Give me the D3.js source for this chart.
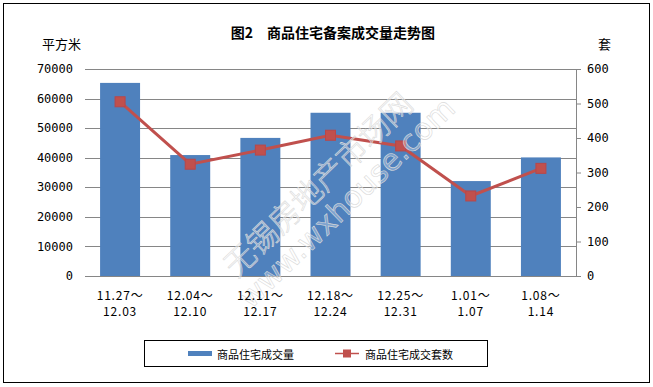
<!DOCTYPE html>
<html>
<head>
<meta charset="utf-8">
<script src="https://cdn.jsdelivr.net/npm/d3@7"></script>
<style>
  body { margin: 0; background: #fff; }
  text { font-family: "Noto Sans CJK SC", "DejaVu Sans", sans-serif; }
</style>
</head>
<body>
<div id="chart"></div>
<script>
// weekly periods, two-line labels
var periodsTop = ['11.27～', '12.04～', '12.11～', '12.18～', '12.25～', '1.01～', '1.08～']
var periodsBottom = ['12.03', '12.10', '12.17', '12.24', '12.31', '1.07', '1.14']
var areaValues = [65300, 40900, 46700, 55200, 55200, 32100, 40100]   // 平方米
var unitValues = [505, 324, 365, 408, 377, 232, 312]                 // 套
var leftTicks = [0, 10000, 20000, 30000, 40000, 50000, 60000, 70000]
var rightTicks = [0, 100, 200, 300, 400, 500, 600]

var width = 653
var height = 387
var margin = { top: 69, right: 77, bottom: 111, left: 85 }
var plotW = width - margin.left - margin.right
var plotH = height - margin.top - margin.bottom

var svg = d3.select('#chart').append('svg')
  .attr('width', width)
  .attr('height', height)

// outer frame
svg.append('rect')
  .attr('x', 3.5).attr('y', 3.5)
  .attr('width', 646).attr('height', 379)
  .attr('fill', '#fff').attr('stroke', '#000')

var x = d3.scaleBand().domain(d3.range(periodsTop.length)).range([0, plotW]).paddingInner(0.43).paddingOuter(0.215)
var yL = d3.scaleLinear().domain([0, 70000]).range([plotH, 0])
var yR = d3.scaleLinear().domain([0, 600]).range([plotH, 0])

var g = svg.append('g').attr('transform', 'translate(' + margin.left + ',' + margin.top + ')')

// gridlines
g.append('g').selectAll('line')
  .data(leftTicks)
  .enter().append('line')
  .attr('x1', 0).attr('x2', plotW)
  .attr('y1', d => Math.round(yL(d)) + 0.5)
  .attr('y2', d => Math.round(yL(d)) + 0.5)
  .attr('stroke', '#868686')

// left axis labels
g.append('g').selectAll('text')
  .data(leftTicks)
  .enter().append('text')
  .attr('x', -12)
  .attr('y', d => yL(d))
  .attr('dy', '0.35em')
  .attr('text-anchor', 'end')
  .style('font-family', '"DejaVu Sans Mono", monospace')
  .style('font-size', '12px')
  .text(d => d)

// right axis
var rightAxis = d3.axisRight(yR).tickValues(rightTicks).tickSize(5).tickPadding(6)
var ra = g.append('g').attr('transform', 'translate(' + plotW + ',0)').call(rightAxis)
ra.select('.domain').attr('stroke', '#868686').attr('d', 'M0.5,' + (plotH + 0.5) + 'V0.5')
ra.selectAll('.tick line').attr('stroke', '#868686')
ra.selectAll('.tick text')
  .style('font-family', '"DejaVu Sans Mono", monospace')
  .style('font-size', '12px')
  .attr('fill', '#000')

// bars
g.append('g').selectAll('rect')
  .data(areaValues)
  .enter().append('rect')
  .attr('x', (d, i) => x(i))
  .attr('y', d => yL(d))
  .attr('width', x.bandwidth())
  .attr('height', d => plotH - yL(d))
  .attr('fill', '#4F81BD')

// line
var line = d3.line()
  .x((d, i) => x(i) + x.bandwidth() / 2)
  .y(d => yR(d))
g.append('path')
  .datum(unitValues)
  .attr('d', line)
  .attr('fill', 'none')
  .attr('stroke', '#C0504D')
  .attr('stroke-width', 3)

g.append('g').selectAll('rect')
  .data(unitValues)
  .enter().append('rect')
  .attr('x', (d, i) => x(i) + x.bandwidth() / 2 - 5)
  .attr('y', d => yR(d) - 5)
  .attr('width', 10).attr('height', 10)
  .attr('fill', '#C0504D')
  .attr('stroke', '#B8474A')

// watermark
var wm = g.append('g')
  .attr('transform', 'translate(' + (330 - margin.left) + ',' + (197 - margin.top) + ') rotate(-44)')
  .style('pointer-events', 'none')
wm.append('text')
  .attr('x', 0).attr('y', -6)
  .attr('text-anchor', 'middle')
  .style('font-size', '31px')
  .style('font-weight', '300')
  .attr('fill', 'rgba(255,255,255,0.3)')
  .attr('stroke', '#dadada').attr('stroke-width', 0.6)
  .text('无锡房地产市场网')
wm.append('text')
  .attr('x', 8).attr('y', 26)
  .attr('text-anchor', 'middle')
  .style('font-size', '30px')
  .style('font-family', '"DejaVu Sans", sans-serif')
  .attr('fill', 'rgba(255,255,255,0.3)')
  .attr('stroke', '#dadada').attr('stroke-width', 0.6)
  .text('www.wxhouse.com')

// category labels
var xl = g.append('g').attr('transform', 'translate(0,' + plotH + ')')
xl.selectAll('text.top')
  .data(periodsTop)
  .enter().append('text')
  .attr('class', 'top')
  .attr('x', (d, i) => x(i) + x.bandwidth() / 2)
  .attr('y', 24)
  .attr('text-anchor', 'middle')
  .style('font-size', '12px')
  .style('letter-spacing', '0.8px')
  .text(d => d)
xl.selectAll('text.bot')
  .data(periodsBottom)
  .enter().append('text')
  .attr('class', 'bot')
  .attr('x', (d, i) => x(i) + x.bandwidth() / 2)
  .attr('y', 40)
  .attr('text-anchor', 'middle')
  .style('font-size', '12px')
  .style('letter-spacing', '0.8px')
  .text(d => d)

// titles
svg.append('text')
  .attr('x', 333).attr('y', 38)
  .attr('text-anchor', 'middle')
  .style('font-size', '14px').style('font-weight', 'bold')
  .text('图2　商品住宅备案成交量走势图')
svg.append('text')
  .attr('x', 42).attr('y', 49)
  .style('font-size', '13px')
  .text('平方米')
svg.append('text')
  .attr('x', 598).attr('y', 49)
  .style('font-size', '13px')
  .text('套')

// legend
var lg = svg.append('g')
lg.append('rect')
  .attr('x', 144.5).attr('y', 340.5)
  .attr('width', 343).attr('height', 26)
  .attr('fill', '#fff').attr('stroke', '#000')
lg.append('rect')
  .attr('x', 188).attr('y', 351)
  .attr('width', 24).attr('height', 5)
  .attr('fill', '#4F81BD')
lg.append('text')
  .attr('x', 217).attr('y', 358)
  .attr('dy', '0.1em')
  .style('font-size', '11px')
  .text('商品住宅成交量')
lg.append('line')
  .attr('x1', 335).attr('x2', 359)
  .attr('y1', 353.5).attr('y2', 353.5)
  .attr('stroke', '#C0504D').attr('stroke-width', 1.5)
lg.append('rect')
  .attr('x', 343).attr('y', 349.5)
  .attr('width', 8).attr('height', 8)
  .attr('fill', '#C0504D')
lg.append('text')
  .attr('x', 365).attr('y', 358)
  .attr('dy', '0.1em')
  .style('font-size', '11px')
  .text('商品住宅成交套数')
</script>
</body>
</html>
